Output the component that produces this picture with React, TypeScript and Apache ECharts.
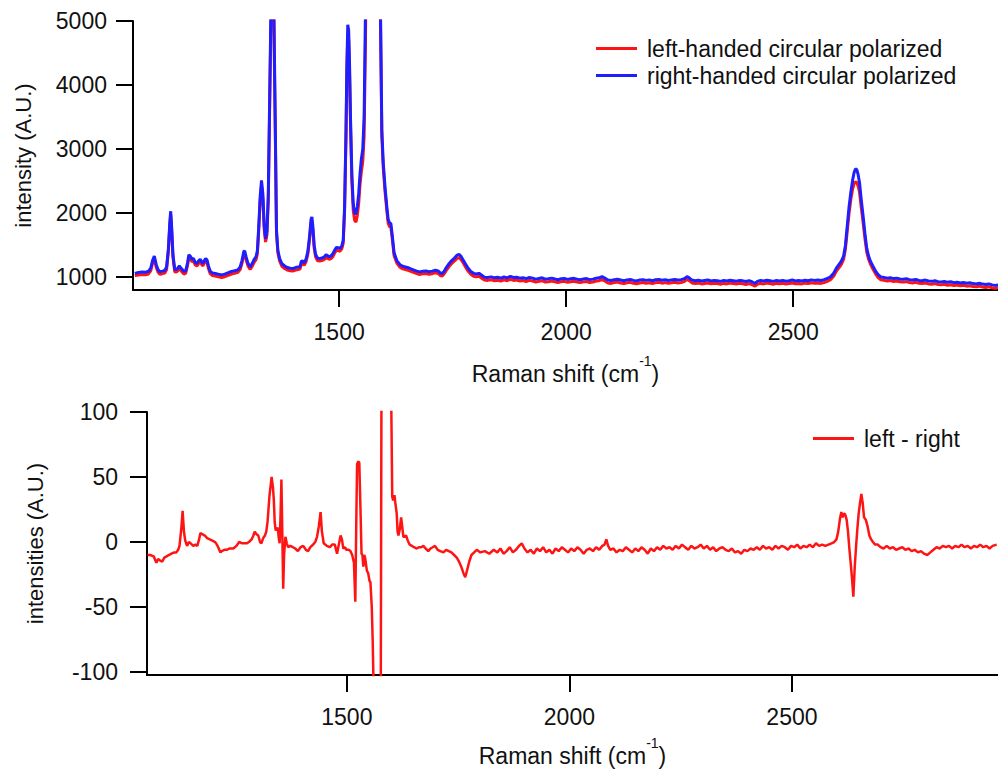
import React, { useEffect, useRef } from 'react';
import * as echarts from 'echarts';

// ---------- top panel: Raman shift grid and the two polarized spectra ----------
const shiftTop = [
  1050,1058,1066,1074,1080,1085,1089,1093,1097,1101,
  1105,1111,1116,1120,1124,1127,1129,1131,1134,1138,
  1143,1148,1153,1158,1162,1166,1169,1172,1176,1179,
  1183,1187,1191,1194,1197,1200,1203,1206,1209,1212,
  1216,1221,1227,1234,1241,1248,1256,1263,1270,1277,
  1282,1286,1290,1292,1295,1299,1304,1309,1313,1317,
  1320,1323,1326,1329,1332,1335,1338,1341,1344,1347,
  1350,1353,1356,1359,1362,1365,1369,1374,1380,1386,
  1392,1398,1404,1410,1414,1417,1420,1423,1427,1431,
  1435,1438,1440,1442,1445,1448,1452,1457,1462,1467,
  1471,1474,1478,1482,1486,1490,1494,1498,1502,1506,
  1509,1512,1515,1517,1519,1521,1523,1525,1528,1531,
  1534,1537,1540,1543,1546,1549,1552,1555,1558,1562,
  1570,1582,1588,1591,1594,1597,1601,1605,1608,1611,
  1614,1617,1621,1627,1634,1640,1646,1652,1658,1665,
  1671,1677,1684,1691,1698,1705,1712,1718,1723,1727,
  1731,1736,1742,1748,1754,1759,1764,1768,1773,1778,
  1784,1790,1796,1802,1808,1814,1820,1827,
  1835,1842,1849,1856,1863,1870,1877,1884,1891,1898,
  1905,1912,1919,1926,1933,1940,1947,1954,1961,1968,
  1975,1982,1989,1996,2003,2010,2017,2024,2031,2038,
  2045,2052,2059,2066,2073,2079,2085,2092,2099,2106,
  2113,2120,2127,2134,2141,2148,2155,2162,2169,2176,
  2183,2190,2197,2204,2211,2218,2225,2232,2239,2246,
  2253,2260,2266,2271,2277,2284,2291,2298,2305,2312,
  2319,2326,2333,2340,2347,2354,2361,2368,2375,2382,
  2389,2396,2403,2410,2416,2421,2428,2435,2442,2449,
  2456,2463,2470,2477,2484,2491,2498,2505,2512,2519,
  2526,2533,2540,2547,2554,2561,2568,2575,2582,2589,
  2595,2601,2606,2611,2615,2619,2623,2627,2631,2634,
  2637,2640,2643,2646,2650,2654,2658,2662,2666,2670,
  2675,2681,2687,2693,2700,2707,2714,2721,2728,2735,
  2742,2749,2756,2763,2770,2777,2784,2791,2798,2805,
  2812,2819,2826,2833,2840,2847,2854,2861,2868,2875,
  2882,2889,2896,2903,2910,2917,2924,2931,2938,2945,
  2952,
];

const rightHanded = [
  1060,1075,1080,1078,1092,1140,1260,1330,1200,1120,
  1085,1095,1105,1160,1450,1850,2030,1800,1350,1120,
  1125,1175,1130,1090,1100,1220,1350,1330,1280,1295,
  1230,1215,1260,1280,1240,1215,1260,1290,1270,1180,
  1095,1065,1057,1045,1036,1048,1070,1090,1100,1115,
  1160,1260,1400,1410,1320,1220,1160,1220,1280,1320,
  1420,1800,2250,2510,2300,1800,1600,1720,2300,3800,
  5300,5600,5300,3600,1740,1420,1290,1210,1175,1150,
  1140,1136,1150,1158,1170,1255,1250,1225,1280,1400,
  1650,1900,1940,1800,1500,1360,1300,1290,1300,1315,
  1350,1340,1320,1330,1365,1420,1465,1460,1450,1490,
  1580,2100,3245,4300,4940,4850,4300,3500,2600,2150,
  2000,1990,2100,2300,2620,2850,3000,3500,5200,8000,
  11000,12000,7000,5200,3300,2800,2411,2100,1900,1850,
  1835,1650,1380,1260,1195,1170,1160,1148,1130,1110,
  1095,1083,1092,1098,1085,1095,1108,1098,1065,1058,
  1090,1150,1210,1260,1300,1340,1355,1330,1270,1210,
  1140,1090,1060,1050,1060,1030,1000,995,
  1005,990,998,985,1003,990,1012,995,1000,985,
  992,978,995,985,970,980,990,968,975,985,
  972,960,975,980,965,975,982,968,960,972,
  978,962,970,985,990,1008,985,955,948,962,
  968,955,945,958,965,950,942,955,962,950,
  958,945,960,966,952,960,948,958,965,955,
  962,975,1010,990,955,945,952,940,948,955,
  942,950,945,935,948,940,952,945,938,950,
  943,932,945,925,905,935,948,940,952,945,
  935,948,942,950,938,945,955,942,948,940,
  952,945,958,950,955,948,962,980,1005,1060,
  1140,1200,1250,1330,1500,1800,2100,2330,2520,2630,
  2690,2680,2600,2480,2200,1950,1680,1450,1330,1250,
  1180,1100,1040,1005,995,985,992,978,985,972,
  968,975,962,955,965,950,945,955,940,935,
  945,930,925,935,920,928,915,922,910,918,
  905,912,900,895,905,892,885,895,880,872,
  878,
];

const leftHanded = [
  1025,1035,1040,1038,1050,1100,1215,1285,1160,1080,
  1045,1055,1065,1120,1410,1800,1975,1750,1310,1080,
  1085,1135,1090,1050,1060,1175,1305,1290,1240,1255,
  1190,1175,1220,1240,1200,1175,1220,1250,1230,1140,
  1055,1025,1017,1005,995,1008,1030,1050,1060,1075,
  1120,1215,1350,1360,1275,1180,1120,1175,1235,1275,
  1370,1740,2180,2430,2220,1740,1550,1660,2200,3650,
  5100,5400,5100,3450,1690,1380,1250,1170,1135,1110,
  1100,1096,1110,1118,1130,1215,1210,1185,1240,1355,
  1600,1840,1880,1745,1455,1320,1260,1250,1260,1275,
  1305,1295,1280,1290,1320,1375,1420,1415,1405,1445,
  1530,2040,3150,4170,4800,4700,4150,3380,2500,2050,
  1890,1860,1960,2150,2450,2650,2800,3200,4700,7600,
  10500,11500,6700,5000,3200,2720,2340,2040,1840,1790,
  1775,1600,1335,1220,1155,1130,1120,1108,1090,1070,
  1055,1043,1052,1058,1045,1055,1068,1058,1025,1018,
  1050,1105,1165,1215,1255,1290,1305,1280,1225,1165,
  1095,1045,1015,1005,1015,985,955,950,
  960,945,953,940,958,945,967,950,955,940,
  947,933,950,940,925,935,945,923,930,940,
  927,915,930,935,920,930,937,923,915,927,
  933,917,925,940,945,963,940,910,903,917,
  923,910,900,913,920,905,897,910,917,905,
  913,900,915,921,907,915,903,913,920,910,
  917,930,965,945,910,900,907,895,903,910,
  897,905,900,890,903,895,907,900,893,905,
  898,887,900,880,862,890,903,895,907,900,
  890,903,897,905,893,900,910,897,903,895,
  907,900,913,905,910,903,917,935,960,1015,
  1095,1150,1200,1280,1440,1720,2000,2220,2380,2460,
  2490,2480,2420,2330,2080,1850,1600,1390,1280,1205,
  1135,1055,995,960,950,940,947,933,940,927,
  923,930,917,910,920,905,900,910,895,890,
  900,885,880,890,875,883,870,877,865,873,
  860,867,855,850,860,847,840,850,835,827,
  833,
];

// ---------- bottom panel: difference spectrum ----------
const shiftDiff = [
  1052,1058,1066,1072,1076,1079,1085,1090,1095,1100,
  1106,1112,1117,1121,1124,1128,1131,1134,1137,1141,
  1145,1149,1155,1160,1164,1168,1171,1175,1181,1186,
  1192,1198,1204,1208,1211,1216,1219,1225,1230,1236,
  1245,1252,1258,1265,1270,1275,1280,1286,1290,1293,
  1297,1301,1305,1308,1312,1316,1319,1322,1326,1331,
  1334,1336,1338,1340,1343,1345,1347,1349,1351,1353,
  1355,1357,1359,1362,1365,1368,1373,1379,1384,1390,
  1396,1402,1408,1413,1418,1424,1429,1433,1437,1441,
  1444,1448,1455,1462,1467,1473,1478,1482,1486,1489,
  1492,1496,1499,1504,1508,1512,1516,1519,1521,1523,
  1526,1528,1531,1533,1535,1537,1539,1541,1545,1548,
  1551,1553,1556,1558,1560,1565,1572,1576,1578,1583,
  1590,1597,1600,1602,1604,1607,1609,1612,1614,1616,
  1619,1622,1625,1627,1630,1633,1637,1641,1646,1651,
  1657,1662,1667,1672,1677,1683,1688,1693,1698,1704,
  1710,1717,1723,1729,1735,1741,1747,1752,1757,1762,
  1766,1770,1775,1780,1786,1792,1800,1810,1820,1830,
  1838,1845,1852,1859,1866,1873,1880,1887,1893,1899,
  1906,1913,1920,1927,1934,1941,1948,1955,1962,1969,
  1976,1983,1990,1997,2004,2011,2018,2025,2032,2039,
  2046,2053,2060,2067,2074,2079,2083,2087,2092,2099,
  2106,2113,2120,2127,2134,2141,2148,2155,2162,2169,
  2176,2183,2190,2197,2204,2211,2218,2225,2232,2239,
  2246,2253,2260,2267,2274,2281,2288,2295,2302,2309,
  2316,2323,2330,2337,2344,2351,2358,2365,2372,2379,
  2386,2393,2400,2407,2414,2421,2428,2435,2442,2449,
  2456,2463,2470,2477,2484,2491,2498,2505,2512,2519,
  2526,2533,2540,2547,2554,2561,2568,2575,2582,2589,
  2595,2600,2604,2608,2611,2614,2617,2620,2623,2626,
  2629,2632,2635,2638,2641,2644,2647,2650,2653,2656,
  2659,2662,2666,2670,2674,2678,2682,2687,2693,2699,
  2706,2713,2720,2727,2734,2741,2748,2755,2762,2769,
  2776,2783,2790,2797,2804,2811,2818,2825,2832,2839,
  2846,2853,2860,2867,2874,2881,2888,2895,2902,2909,
  2916,2923,2930,2937,2944,2951,2960,
];

const leftMinusRight = [
  -10,-10,-11,-16,-13,-14,-15,-12,-11,-10,
  -9,-8,-8,-6,-3,10,24,8,1,-3,
  0,-1,-3,-2,-3,2,7,6,5,3,
  2,1,0,-2,-4,-8,-7,-6,-6,-5,
  -5,-3,0,-1,-1,-1,0,2,5,8,
  6,5,0,-1,3,5,8,16,35,50,
  42,32,15,9,10,11,3,-1,20,48,
  7,-36,-10,4,-1,-4,-3,-4,-5,-7,
  -4,-3,-6,-7,-4,-2,0,4,12,23,
  8,-1,-3,-4,-2,-2,-9,-2,5,2,
  -5,-4,-6,-6,-7,-10,-16,-46,10,60,
  62,61,20,-9,-10,-19,-10,-12,-22,-24,
  -30,-31,-50,-75,-110,-200,-250,-150,150,250,
  200,150,100,35,32,36,30,22,8,5,
  10,19,10,4,4,5,1,-2,-3,-4,
  -5,-4,-4,-3,-5,-7,-5,-4,-3,-6,
  -7,-8,-6,-7,-8,-10,-12,-15,-19,-24,
  -27,-22,-15,-10,-8,-6,-8,-7,-9,-6,
  -8,-5,-9,-7,-4,-8,-6,-3,-1,-5,
  -8,-6,-9,-5,-7,-4,-8,-6,-9,-5,
  -7,-4,-6,-8,-5,-7,-4,-6,-9,-6,
  -5,-7,-4,-6,-3,-2,2,-3,-6,-5,
  -8,-6,-7,-4,-6,-8,-5,-7,-4,-6,
  -9,-5,-7,-4,-6,-3,-5,-4,-6,-3,
  -5,-2,-4,-6,-3,-5,-4,-2,-5,-3,
  -6,-4,-7,-5,-4,-6,-7,-5,-8,-7,
  -9,-6,-7,-5,-6,-4,-6,-3,-5,-4,
  -6,-3,-5,-3,-4,-6,-3,-4,-2,-5,
  -3,-4,-2,-4,-1,-3,-2,-3,-2,-1,
  0,2,8,18,23,19,22,21,17,8,
  -5,-16,-28,-42,-20,-4,10,22,30,37,
  30,19,17,12,5,2,0,-2,-2,-4,
  -5,-3,-5,-4,-6,-5,-4,-6,-5,-7,
  -6,-8,-7,-9,-10,-8,-6,-4,-5,-3,
  -4,-3,-5,-3,-4,-2,-4,-3,-5,-3,
  -4,-2,-4,-3,-5,-3,-2,
];

// ---------- tick labels ----------
const shiftTicks = [1500, 2000, 2500];
const intensityTicks = [1000, 2000, 3000, 4000, 5000];
const diffTicks = [-100, -50, 0, 50, 100];

const seriesNames = ['left-handed circular polarized', 'right-handed circular polarized', 'left - right'];

function zip(xs: number[], ys: number[]) {
  const n = Math.min(xs.length, ys.length);
  const out: number[][] = [];
  for (let i = 0; i < n; i++) out.push([xs[i], ys[i]]);
  return out;
}

const FONT = "'Liberation Sans', Arial, sans-serif";
const RED = '#ff1414';
const BLUE = '#1e1eff';
const plain = (v: number) => String(v);

function xAxisCfg(grid: number, min: number, max: number, nameGap: number) {
  return {
    type: 'value',
    gridIndex: grid,
    min,
    max,
    name: 'Raman shift (cm{sup|-1})',
    nameLocation: 'middle',
    nameGap,
    nameTextStyle: {
      fontFamily: FONT,
      fontSize: 23,
      color: '#111',
      lineHeight: 40,
      rich: { sup: { fontFamily: FONT, fontSize: 14, color: '#111', verticalAlign: 'top', lineHeight: 14 } },
    },
    axisLine: { show: true, onZero: false, lineStyle: { color: '#000', width: 2 } },
    axisTick: { show: true, inside: false, length: 17, customValues: shiftTicks, lineStyle: { color: '#000', width: 2 } },
    axisLabel: { show: true, customValues: shiftTicks, formatter: plain, margin: 30, fontFamily: FONT, fontSize: 23, color: '#111' },
    splitLine: { show: false },
  };
}

function yAxisCfg(grid: number, min: number, max: number, ticks: number[], name: string, nameGap: number, margin: number) {
  return {
    type: 'value',
    gridIndex: grid,
    min,
    max,
    name,
    nameLocation: 'middle',
    nameGap,
    nameTextStyle: { fontFamily: FONT, fontSize: 22, color: '#111' },
    axisLine: { show: true, onZero: false, lineStyle: { color: '#000', width: 2 } },
    axisTick: { show: true, inside: false, length: 17, customValues: ticks, lineStyle: { color: '#000', width: 2 } },
    axisLabel: { show: true, customValues: ticks, formatter: plain, margin, fontFamily: FONT, fontSize: 23, color: '#111' },
    splitLine: { show: false },
  };
}

export default function App() {
  const ref = useRef<HTMLDivElement>(null);

  useEffect(() => {
    if (!ref.current) return;
    const chart = echarts.init(ref.current, undefined, { renderer: 'svg' });
    const option: any = {
      animation: false,
      backgroundColor: '#ffffff',
      textStyle: { fontFamily: FONT },
      grid: [
        { left: 133, top: 21, width: 865, height: 269, containLabel: false, outerBoundsMode: 'none' },
        { left: 147, top: 412, width: 851, height: 263, containLabel: false, outerBoundsMode: 'none' },
      ],
      xAxis: [xAxisCfg(0, 1046, 2951, 64), xAxisCfg(1, 1051, 2963, 61)],
      yAxis: [
        yAxisCfg(0, 800, 5000, intensityTicks, 'intensity (A.U.)', 99, 26),
        yAxisCfg(1, -102.3, 100, diffTicks, 'intensities (A.U.)', 101, 29),
      ],
      legend: [
        {
          data: [seriesNames[0], seriesNames[1]],
          orient: 'vertical',
          left: 596,
          top: 37,
          padding: 0,
          icon: 'rect',
          itemWidth: 41,
          itemHeight: 3,
          itemGap: 4,
          textStyle: { fontFamily: FONT, fontSize: 23, color: '#111', padding: [0, 0, 0, 5] },
        },
        {
          data: [seriesNames[2]],
          orient: 'vertical',
          left: 813,
          top: 427,
          padding: 0,
          icon: 'rect',
          itemWidth: 41,
          itemHeight: 3,
          textStyle: { fontFamily: FONT, fontSize: 23, color: '#111', padding: [0, 0, 0, 5] },
        },
      ],
      series: [
        {
          name: seriesNames[0],
          type: 'line',
          xAxisIndex: 0,
          yAxisIndex: 0,
          data: zip(shiftTop, leftHanded),
          showSymbol: false,
          symbol: 'none',
          lineStyle: { color: RED, width: 3 },
          itemStyle: { color: RED },
          clip: true,
        },
        {
          name: seriesNames[1],
          type: 'line',
          xAxisIndex: 0,
          yAxisIndex: 0,
          data: zip(shiftTop, rightHanded),
          showSymbol: false,
          symbol: 'none',
          lineStyle: { color: BLUE, width: 3 },
          itemStyle: { color: BLUE },
          clip: true,
        },
        {
          name: seriesNames[2],
          type: 'line',
          xAxisIndex: 1,
          yAxisIndex: 1,
          data: zip(shiftDiff, leftMinusRight),
          showSymbol: false,
          symbol: 'none',
          lineStyle: { color: RED, width: 2.5 },
          itemStyle: { color: RED },
          clip: true,
        },
      ],
    };
    chart.setOption(option);
    return () => chart.dispose();
  }, []);

  return (
    <div
      ref={ref}
      style={{ position: 'absolute', left: 0, top: 0, width: 998, height: 769, background: '#fff' }}
    />
  );
}
